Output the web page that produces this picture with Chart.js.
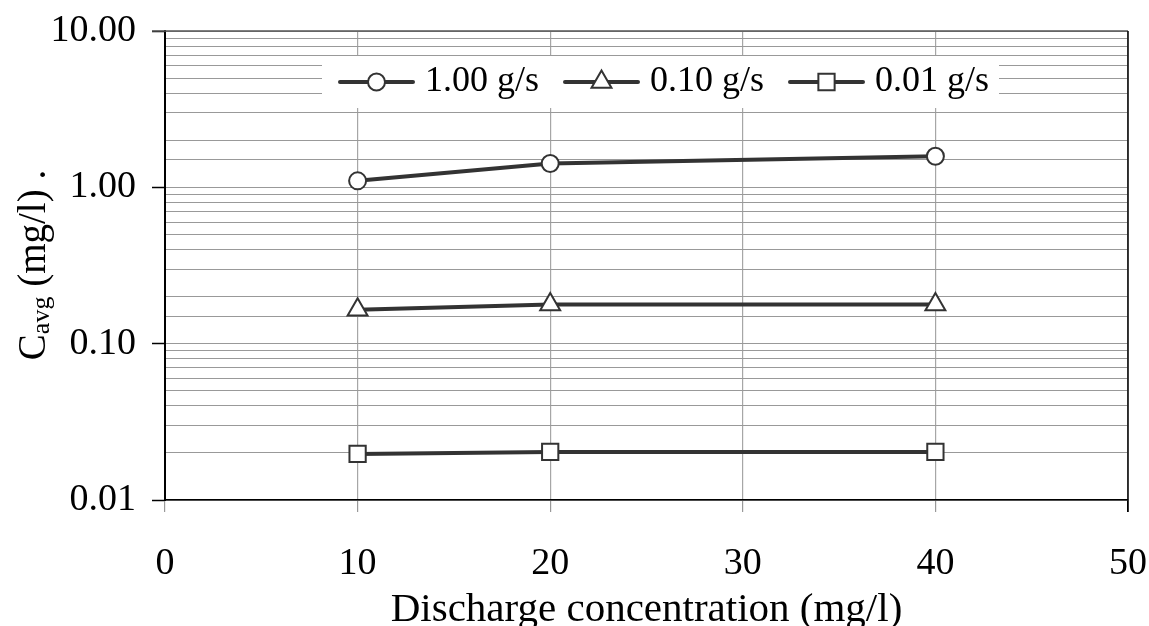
<!DOCTYPE html>
<html>
<head>
<meta charset="utf-8">
<script src="https://cdn.jsdelivr.net/npm/chart.js@4"></script>
<style>
  html, body { margin: 0; padding: 0; background: #fff; }
  #wrap { width: 1149px; height: 626px; }
</style>
</head>
<body>
<div id="wrap"><canvas id="chart"></canvas></div>
<script>
const xValues = [10, 20, 40];
const seriesLabels = ['1.00 g/s', '0.10 g/s', '0.01 g/s'];
const rate100 = [1.10, 1.42, 1.58];
const rate010 = [0.165, 0.178, 0.178];
const rate001 = [0.0197, 0.0203, 0.0203];
const xTicks = [0, 10, 20, 30, 40, 50];
const yMajorTicks = [0.01, 0.1, 1, 10];

const FONT = "'Liberation Serif', 'Times New Roman', serif";
const INK = '#333333';

function isMajor(v) {
  const l = Math.log10(v);
  return Math.abs(l - Math.round(l)) < 1e-9;
}

function series(label, values, style, radius) {
  return {
    label: label,
    data: xValues.map((x, i) => ({ x: x, y: values[i] })),
    borderColor: INK,
    borderWidth: 4,
    backgroundColor: '#ffffff',
    pointStyle: style,
    pointRadius: radius,
    pointBorderWidth: 2,
    pointBorderColor: INK,
    pointBackgroundColor: '#ffffff',
    tension: 0
  };
}

// frame: top + right border like the spreadsheet plot area
const framePlugin = {
  id: 'frame',
  beforeDatasetsDraw(chart) {
    const { ctx, chartArea: a } = chart;
    ctx.save();
    ctx.lineWidth = 1.5;
    ctx.strokeStyle = '#555';
    ctx.beginPath();
    ctx.moveTo(a.left - 13, a.top);
    ctx.lineTo(a.right, a.top);
    ctx.stroke();
    ctx.strokeStyle = '#000';
    ctx.beginPath();
    ctx.moveTo(a.right, a.top);
    ctx.lineTo(a.right, a.bottom + 12);
    ctx.stroke();
    ctx.restore();
  }
};

// legend drawn inside the plot area on a white box
const insideLegend = {
  id: 'insideLegend',
  afterDatasetsDraw(chart) {
    const { ctx, chartArea: a } = chart;
    const boxX = a.left + 157, boxY = a.top + 25, boxW = 677, boxH = 52;
    const cy = boxY + boxH / 2;
    ctx.save();
    ctx.fillStyle = '#fff';
    ctx.fillRect(boxX, boxY, boxW, boxH);
    chart.data.datasets.forEach((ds, i) => {
      const x0 = boxX + 18 + i * 225;
      ctx.strokeStyle = ds.borderColor;
      ctx.lineWidth = 4;
      ctx.lineCap = 'round';
      ctx.beginPath();
      ctx.moveTo(x0, cy);
      ctx.lineTo(x0 + 73, cy);
      ctx.stroke();
      ctx.fillStyle = '#fff';
      ctx.strokeStyle = ds.pointBorderColor;
      ctx.lineWidth = ds.pointBorderWidth;
      Chart.helpers.drawPoint(ctx, { pointStyle: ds.pointStyle, radius: ds.pointRadius, rotation: 0, borderWidth: ds.pointBorderWidth }, x0 + 36.5, cy);
      ctx.fillStyle = '#000';
      ctx.font = '36px ' + FONT;
      ctx.textBaseline = 'middle';
      ctx.textAlign = 'left';
      ctx.fillText(ds.label, x0 + 85, cy);
    });
    ctx.restore();
  }
};

// y title with subscript
const yTitle = {
  id: 'yTitle',
  afterDraw(chart) {
    const { ctx } = chart;
    const parts = [
      { t: 'C', size: 39, dy: 0 },
      { t: 'avg', size: 26, dy: 4 },
      { t: ' (mg/l) .', size: 39, dy: 0 }
    ];
    ctx.save();
    let total = 0;
    parts.forEach(p => { ctx.font = p.size + 'px ' + FONT; p.w = ctx.measureText(p.t).width; total += p.w; });
    ctx.translate(45, 265);
    ctx.rotate(-Math.PI / 2);
    ctx.fillStyle = '#000';
    ctx.textBaseline = 'alphabetic';
    let x = -total / 2;
    parts.forEach(p => {
      ctx.font = p.size + 'px ' + FONT;
      ctx.fillText(p.t, x, p.dy);
      x += p.w;
    });
    ctx.restore();
  }
};

new Chart(document.getElementById('chart'), {
  type: 'line',
  data: {
    datasets: [
      series(seriesLabels[0], rate100, 'circle', 8.5),
      series(seriesLabels[1], rate010, 'triangle', 11.5),
      series(seriesLabels[2], rate001, 'rect', 11.5)
    ]
  },
  options: {
    responsive: true,
    maintainAspectRatio: false,
    animation: false,
    layout: { padding: { top: 31, right: 21, left: 0, bottom: 0 } },
    plugins: {
      legend: { display: false },
      tooltip: { enabled: false }
    },
    scales: {
      x: {
        type: 'linear',
        min: xTicks[0],
        max: xTicks[xTicks.length - 1],
        afterBuildTicks: s => { s.ticks = xTicks.map(v => ({ value: v })); },
        afterFit: s => { s.height = 126; s.paddingLeft = 0; s.paddingRight = 0; },
        grid: {
          color: '#a6a6a6',
          lineWidth: 1.2,
          tickLength: 12,
          tickColor: c => (c.tick && c.tick.value === 50 ? '#000' : '#999')
        },
        border: { color: '#000', width: 1.5 },
        ticks: {
          color: '#000',
          font: { family: FONT, size: 38 },
          padding: 29,
          maxRotation: 0,
          autoSkip: false
        },
        title: {
          display: true,
          text: 'Discharge concentration (mg/l)',
          color: '#000',
          font: { family: FONT, size: 41 },
          padding: { top: 0, bottom: -9 }
        }
      },
      y: {
        type: 'logarithmic',
        min: yMajorTicks[0],
        max: yMajorTicks[yMajorTicks.length - 1],
        afterFit: s => { s.width = 165; s.paddingTop = 0; s.paddingBottom = 0; },
        grid: {
          color: '#999',
          lineWidth: 1,
          tickLength: 13,
          tickColor: c => (c.tick && isMajor(c.tick.value) ? '#000' : 'rgba(0,0,0,0)'),
          tickWidth: 1.5
        },
        border: { color: '#000', width: 2 },
        ticks: {
          color: '#000',
          font: { family: FONT, size: 38 },
          padding: 16,
          autoSkip: false,
          callback: v => (isMajor(v) ? v.toFixed(2) : '')
        }
      }
    }
  },
  plugins: [framePlugin, insideLegend, yTitle]
});
</script>
</body>
</html>
